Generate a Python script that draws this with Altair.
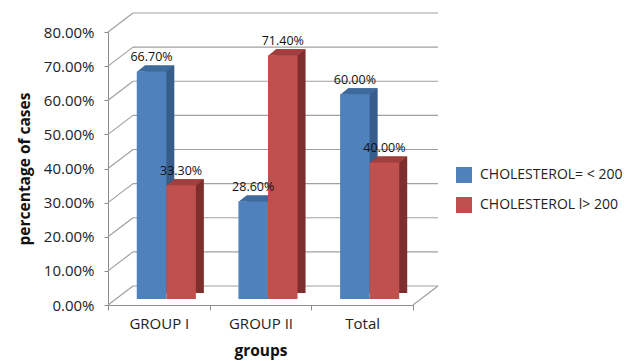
import altair as alt
import pandas as pd

groups = ["GROUP I", "GROUP II", "Total"]
series = ["CHOLESTEROL= < 200", "CHOLESTEROL l> 200"]
low_values = [0.667, 0.286, 0.600]
high_values = [0.333, 0.714, 0.400]
tick_values = [0.0, 0.1, 0.2, 0.3, 0.4, 0.5, 0.6, 0.7, 0.8]

front_colors = ["#4F81BD", "#C0504D"]
side_colors = ["#385D8A", "#7E2E2C"]
cap_colors = ["#3F6A9C", "#A03F3D"]

rows = []
for g, lo, hi in zip(groups, low_values, high_values):
    rows.append({"group": g, "series": series[0], "value": lo})
    rows.append({"group": g, "series": series[1], "value": hi})
bars = pd.DataFrame(rows)
ticks = pd.DataFrame({"tick": tick_values})

W, H = 305, 273
DX, DY = 25, 19          # depth of the back wall
PO = 0.72                # outer padding of the sub-bands
STEP = W / 3
BW = STEP / (2 + 2 * PO)  # sub-band width
OUTER = STEP - 2 * BW
ALIGN = 0.676
SD, SY = 8, 6            # bar depth

FONT = "Open Sans"
yscale = alt.Scale(domain=[0, 0.8], nice=False, zero=True)
xscale = alt.Scale(type="band", domain=groups, paddingInner=0, paddingOuter=0)
oscale = alt.Scale(type="band", domain=series, paddingInner=0, paddingOuter=PO, align=ALIGN)
side_oscale = alt.Scale(type="band", domain=series, paddingInner=0, paddingOuter=PO,
                        align=ALIGN + SD / OUTER)

yaxis = alt.Axis(values=tick_values, format=".2%", title="percentage of cases",
                 grid=False, tickSize=4, labelPadding=10, domainColor="#8c8c8c",
                 tickColor="#8c8c8c", labelFont=FONT, labelFontSize=15, labelColor="#222222",
                 titleFont=FONT, titleFontSize=15.5, titleFontWeight="bold", titleColor="#111111",
                 titleX=-84, titleY=H / 2, titleAngle=270, titleAlign="center",
                 titleBaseline="middle")
xaxis = alt.Axis(title="groups", labelAngle=0, tickBand="extent", tickSize=5,
                 domainColor="#8c8c8c", tickColor="#8c8c8c", labelFont=FONT,
                 labelFontSize=15, labelColor="#222222", labelPadding=6,
                 titleFont=FONT, titleFontSize=15.5, titleFontWeight="bold",
                 titleColor="#111111", titleY=45, titleBaseline="middle")


def X():
    return alt.X("group:N", scale=xscale, axis=xaxis, sort=groups)


def XO(scale=oscale):
    return alt.XOffset("series:N", scale=scale, sort=series)


def Yv():
    return alt.Y("value:Q", scale=yscale, axis=yaxis)


grid_color = "#a0a0a0"
back_lines = alt.Chart(ticks).mark_rule(color=grid_color, strokeWidth=1.2, yOffset=-DY).encode(
    x=alt.value(DX), x2=alt.value(W + DX),
    y=alt.Y("tick:Q", scale=yscale, axis=yaxis))
diagonals = alt.Chart(ticks).mark_rule(color=grid_color, strokeWidth=1.2, y2Offset=-DY).encode(
    x=alt.value(0), x2=alt.value(DX),
    y=alt.Y("tick:Q", scale=yscale, axis=yaxis), y2="tick:Q")
floor_right = alt.Chart(ticks).transform_filter("datum.tick == 0").mark_rule(
    color=grid_color, strokeWidth=1.2, y2Offset=-DY).encode(
    x=alt.value(W), x2=alt.value(W + DX),
    y=alt.Y("tick:Q", scale=yscale, axis=yaxis), y2="tick:Q")

cap_path = "M-0.7375,0.02 L0.7375,0.02 L1.1375,-0.3 L-0.3375,-0.3 Z"

layers = [back_lines, diagonals, floor_right]
for i, s in enumerate(series):
    base = alt.Chart(bars).transform_filter(alt.datum.series == s)
    # side face: the bar shifted right by its depth; the part behind the front face is hidden
    side = base.mark_bar(yOffset=-6 - SY, y2Offset=-4.3 - SY / 2,
                         color=side_colors[i]).encode(
        x=X(), xOffset=XO(side_oscale), y=Yv())
    cap = base.mark_point(shape=cap_path, size=1600, filled=True, opacity=1,
                          strokeWidth=0, yOffset=-6, color=cap_colors[i]).encode(
        x=X(), xOffset=XO(), y=Yv())
    front = base.mark_bar(yOffset=-6, y2Offset=-4.3).encode(
        x=X(), xOffset=XO(), y=Yv(),
        color=alt.Color("series:N", scale=alt.Scale(domain=series, range=front_colors),
                        legend=alt.Legend(title=None, orient="none", legendX=348, legendY=135,
                                          symbolType="square", symbolSize=256,
                                          symbolStrokeWidth=0, labelFont=FONT,
                                          labelFontSize=14, labelColor="#222222",
                                          labelOffset=8, rowPadding=14)))
    layers += [side, cap, front]

labels = alt.Chart(bars).mark_text(dy=-20.5, font=FONT, fontSize=12.5, color="#111111",
                                   baseline="middle").encode(
    x=X(), xOffset=XO(), y=Yv(),
    text=alt.Text("value:Q", format=".2%"))
layers.append(labels)

chart = alt.layer(*layers).resolve_scale(xOffset="independent").properties(
    width=W, height=H,
    autosize=alt.AutoSizeParams(type="none"),
    padding={"left": 108, "top": 32, "right": 632 - 108 - W, "bottom": 361 - 32 - H},
    background="white",
).configure_view(strokeWidth=0)

chart.save("out.html", embed_options={"renderer": "svg", "actions": False})
